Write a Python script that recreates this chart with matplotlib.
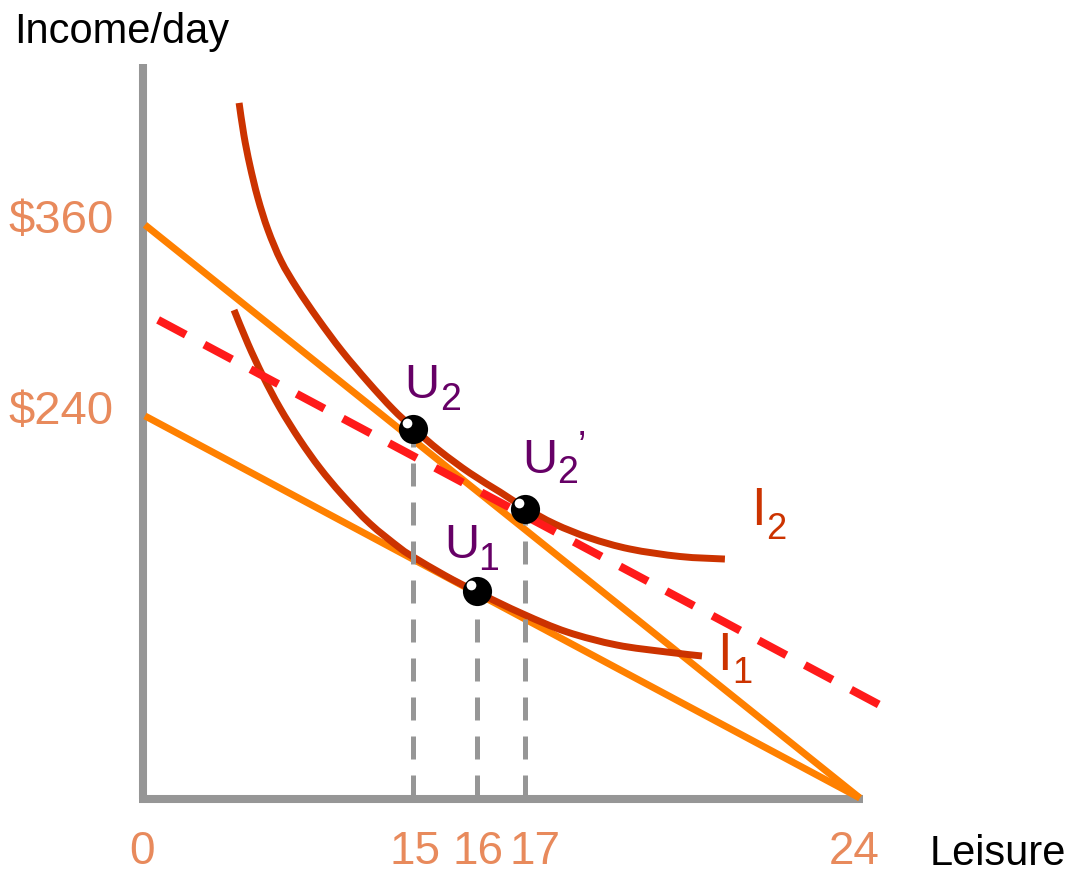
import matplotlib.pyplot as plt
from matplotlib.transforms import offset_copy
from matplotlib.path import Path
from matplotlib.patches import PathPatch
import numpy as np

plt.rcParams['font.family'] = ['Liberation Sans', 'DejaVu Sans']

# budget lines (position along leisure axis, income $)
hi_x = [0, 24]
hi_y = [360, 0]
lo_x = [0, 24]
lo_y = [240, 0]
# red dashed line
dash_x = [0.44, 24.67]
dash_y = [300.3, 58.4]

# indifference curve I2
i2_x = [3.16, 3.32, 3.52, 3.79, 4.13, 4.57, 5.10, 5.81, 6.61, 7.49, 8.32, 9.00,
        9.90, 10.91, 11.92, 12.76, 13.76, 14.94, 16.28, 17.96, 19.47]
i2_y = [436.6, 416.5, 397.6, 376.9, 356.8, 337.3, 320.4, 300.9, 280.8, 261.3,
        244.3, 232.4, 218.0, 204.1, 192.2, 182.2, 172.1, 163.3, 156.4, 151.7, 150.1]
# indifference curve I1
i1_x = [2.99, 3.46, 3.96, 4.53, 5.20, 5.87, 6.61, 7.55, 8.56, 9.00, 10.07, 11.14,
        12.69, 14.17, 15.84, 17.52, 18.70]
i1_y = [306.5, 285.2, 265.1, 245.0, 224.9, 207.3, 190.7, 172.4, 157.0, 151.5,
        139.8, 129.4, 115.6, 104.3, 96.1, 91.7, 89.2]

# optimum points
pt_x = [9.00, 11.14, 12.76]
pt_y = [231.8, 130.0, 181.5]

leisure_labels = ['0', '15', '16', '17', '24']
leisure_pos = [-0.1, 9.06, 11.18, 13.09, 23.8]
income_labels = ['$360', '$240']
income_vals = [360, 240]

W, H = 1074, 874
fig = plt.figure(figsize=(W / 100, H / 100), dpi=100)
ax = fig.add_axes([0, 0, 1, 1])
ax.set_xlim(-4.867, 31.19)
ax.set_ylim(-47.74, 501.26)
ax.set_xticks([])
ax.set_yticks([])

# axes look
for s in ['top', 'right']:
    ax.spines[s].set_visible(False)
ax.spines['left'].set_position(('data', -0.07))
ax.spines['left'].set_bounds(-0.6, 461)
ax.spines['bottom'].set_position(('data', -0.6))
ax.spines['bottom'].set_bounds(-0.2, 24.1)
for s in ['left', 'bottom']:
    ax.spines[s].set_linewidth(5.8)
    ax.spines[s].set_color('#969696')
    ax.spines[s].set_capstyle('butt')

orange = '#FF8000'
dkred = '#CC3300'
ticks_c = '#E88A5C'
purple = '#660066'


def curve(xs, ys, color):
    # smooth path through the points (catmull-rom as bezier)
    p = np.column_stack([xs, ys])
    ext = np.vstack([p[0], p, p[-1]])
    verts = [p[0]]
    codes = [Path.MOVETO]
    for i in range(len(p) - 1):
        a, b, c, d = ext[i], ext[i + 1], ext[i + 2], ext[i + 3]
        verts += [b + (c - a) / 6, c - (d - b) / 6, c]
        codes += [Path.CURVE4] * 3
    ax.add_patch(PathPatch(Path(verts, codes), fill=False, edgecolor=color,
                           lw=5, capstyle='butt', zorder=4))


ax.plot(hi_x, hi_y, color=orange, lw=5, solid_capstyle='butt', zorder=3)
ax.plot(lo_x, lo_y, color=orange, lw=5, solid_capstyle='butt', zorder=3)
curve(i2_x, i2_y, dkred)
curve(i1_x, i1_y, dkred)
ax.plot(dash_x, dash_y, color='#FF1A1A', lw=5.8, dashes=(3.9, 2.6), zorder=5)

ax.vlines(pt_x, 0, pt_y, colors='#969696', lw=3.6, linestyles=(0, (4.6, 3.2)), zorder=6)
ax.scatter(pt_x, pt_y, s=21 ** 2, c='black', zorder=7, linewidths=0)
hl = offset_copy(ax.transData, fig=fig, x=-6, y=6, units='dots')
ax.scatter(pt_x, pt_y, s=7 ** 2, c='white', zorder=8, linewidths=0, transform=hl)

# tick labels
for lab, x in zip(leisure_labels, leisure_pos):
    ax.annotate(lab, (x, 0), xytext=(0, -66), textcoords='offset pixels',
                ha='center', va='baseline', fontsize=33, color=ticks_c)
for lab, y in zip(income_labels, income_vals):
    ax.annotate(lab, (0, y), xytext=(-31, -8), textcoords='offset pixels',
                ha='right', va='baseline', fontsize=34, color=ticks_c)


def ptext(px, py, s, **kw):
    fig.text(px / W, 1 - py / H, s, ha='left', va='baseline', **kw)


ptext(14, 43, 'Income/day', fontsize=30, color='black')
ptext(930, 865, 'Leisure', fontsize=30, color='black')

# point labels
ptext(404, 398, 'U', fontsize=35, color=purple)
ptext(440, 410, '2', fontsize=27, color=purple)
ptext(444, 558, 'U', fontsize=35, color=purple)
ptext(478, 570, '1', fontsize=27, color=purple)
ptext(522, 473, 'U', fontsize=35, color=purple)
ptext(557, 483, '2', fontsize=27, color=purple)
ptext(578, 458, '\u2019', fontsize=27, color=purple)

# curve labels
ptext(751, 525, 'I', fontsize=38, color=dkred)
ptext(766, 539, '2', fontsize=26, color=dkred)
ptext(717, 670, 'I', fontsize=38, color=dkred)
ptext(732, 683, '1', fontsize=26, color=dkred)

fig.savefig('out.png', dpi=100)
